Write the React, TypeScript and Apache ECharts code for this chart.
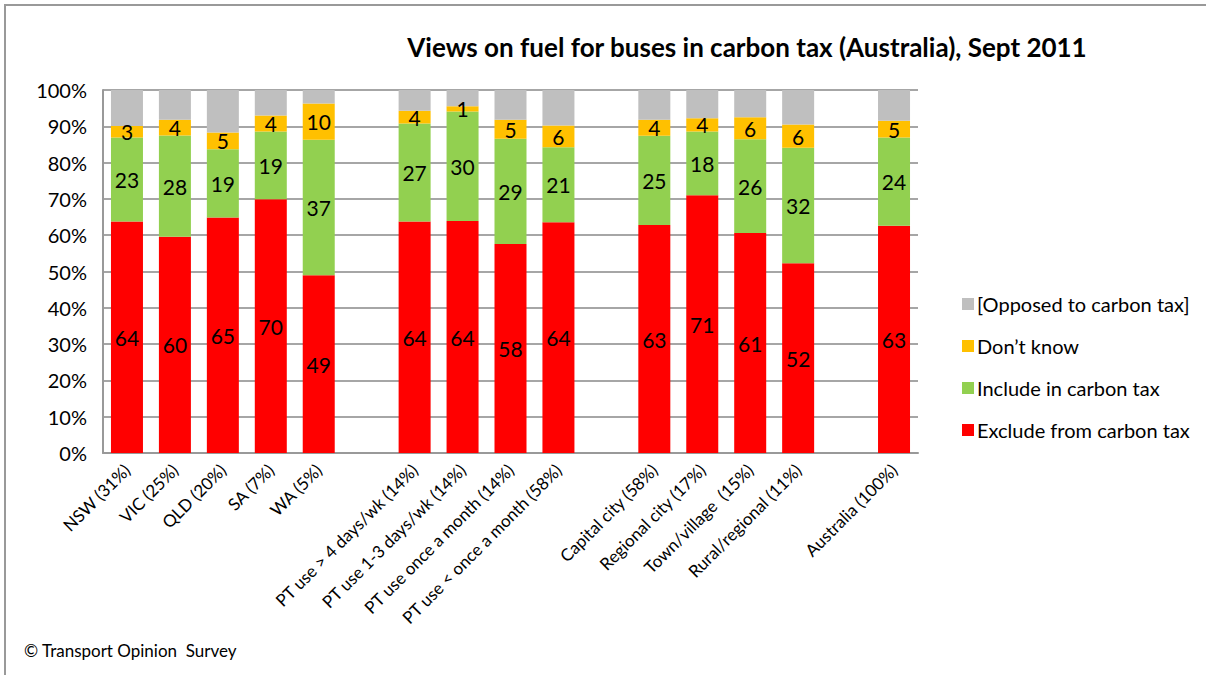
import React, { useEffect, useRef } from "react";
import * as echarts from "echarts";

const categories = [
  "NSW (31%)", "VIC (25%)", "QLD (20%)", "SA (7%)", "WA (5%)", "",
  "PT use > 4 days/wk (14%)", "PT use 1-3 days/wk (14%)", "PT use once a month (14%)", "PT use < once a month (58%)", " ",
  "Capital city (58%)", "Regional city (17%)", "Town/village  (15%)", "Rural/regional (11%)", "  ",
  "Australia (100%)",
];
const excludeVals = [63.8, 59.6, 64.9, 69.9, 49.0, null, 63.8, 63.9, 57.6, 63.6, null, 62.8, 71.0, 60.6, 52.3, null, 62.6];
const includeVals = [23.1, 27.9, 18.8, 18.7, 37.3, null, 27.0, 30.2, 29.0, 20.6, null, 24.6, 17.6, 25.8, 31.8, null, 24.3];
const dontKnowVals = [3.2, 4.3, 4.6, 4.4, 10.0, null, 3.5, 1.4, 5.2, 6.0, null, 4.4, 3.6, 6.1, 6.4, null, 4.6];
const opposedVals = [9.9, 8.2, 11.7, 7.0, 3.7, null, 5.7, 4.5, 8.2, 9.8, null, 8.2, 7.8, 7.5, 9.5, null, 8.5];
const yTicks = ["0%", "10%", "20%", "30%", "40%", "50%", "60%", "70%", "80%", "90%", "100%"];
const seriesNames = ["Exclude from carbon tax", "Include in carbon tax", "Don\u2019t know", "[Opposed to carbon tax]"];

const FONT = "Lato, 'Open Sans', sans-serif";

export default function App() {
  const ref = useRef<HTMLDivElement>(null);
  useEffect(() => {
    document.body.style.margin = "0";
    const chart = echarts.init(ref.current!, null, { renderer: "svg" });
    const lbl = {
      show: true,
      position: "inside" as const,
      color: "#000",
      fontSize: 21,
      fontFamily: FONT,
      formatter: (p: any) => (p.value == null ? "" : String(Math.round(p.value))),
    };
    const mk = (name: string, data: any[], color: string, label: any) => ({
      name,
      type: "bar",
      stack: "s",
      data,
      barWidth: 32,
      itemStyle: { color },
      label,
      emphasis: { disabled: true },
    });
    chart.setOption({
      animation: false,
      backgroundColor: "#fff",
      textStyle: { fontFamily: FONT },
      title: {
        text: "Views on fuel for buses in carbon tax (Australia), Sept 2011",
        left: 742,
        top: 29,
        textAlign: "center",
        textStyle: { fontSize: 26, fontWeight: "bold", color: "#000", fontFamily: FONT },
      },
      legend: {
        orient: "vertical",
        left: 957,
        top: 287,
        itemWidth: 12,
        itemHeight: 12,
        itemGap: 18,
        icon: "rect",
        data: [seriesNames[3], seriesNames[2], seriesNames[1], seriesNames[0]],
        textStyle: { fontSize: 20, lineHeight: 24, color: "#000", fontFamily: FONT, padding: [0, 0, 0, -2] },
      },
      grid: { left: 103, right: 288, top: 90, bottom: 222, containLabel: false },
      xAxis: {
        type: "category",
        data: categories,
        axisLine: { show: true, lineStyle: { color: "#999", width: 2 } },
        axisTick: { show: false },
        axisLabel: {
          rotate: 45,
          interval: 0,
          fontSize: 17,
          color: "#000",
          fontFamily: FONT,
          margin: 14,
        },
      },
      yAxis: {
        type: "value",
        min: 0,
        max: 100,
        interval: 10,
        axisLine: { show: true, lineStyle: { color: "#999", width: 2 } },
        axisTick: { show: false },
        splitLine: { lineStyle: { color: "#a6a6a6", width: 2 } },
        axisLabel: {
          fontSize: 20,
          color: "#000",
          fontFamily: FONT,
          margin: 16,
          formatter: (v: number) => yTicks[Math.round(v / 10)],
        },
      },
      series: [
        mk(seriesNames[0], excludeVals, "#FF0000", lbl),
        mk(seriesNames[1], includeVals, "#92D050", lbl),
        mk(seriesNames[2], dontKnowVals, "#FFC000", lbl),
        mk(seriesNames[3], opposedVals, "#BFBFBF", { show: false }),
      ],
      graphic: [
        { type: "line", shape: { x1: 4, y1: 5, x2: 1206, y2: 5 }, style: { stroke: "#999", lineWidth: 2 } },
        { type: "line", shape: { x1: 5, y1: 4, x2: 5, y2: 675 }, style: { stroke: "#999", lineWidth: 2 } },
        {
          type: "text",
          left: 24,
          top: 642,
          style: { text: "\u00A9 Transport Opinion  Survey", fontSize: 17, fill: "#000", fontFamily: FONT },
        },
      ],
    });
    return () => chart.dispose();
  }, []);
  return <div ref={ref} style={{ position: "fixed", left: 0, top: 0, width: 1206, height: 675 }} />;
}
